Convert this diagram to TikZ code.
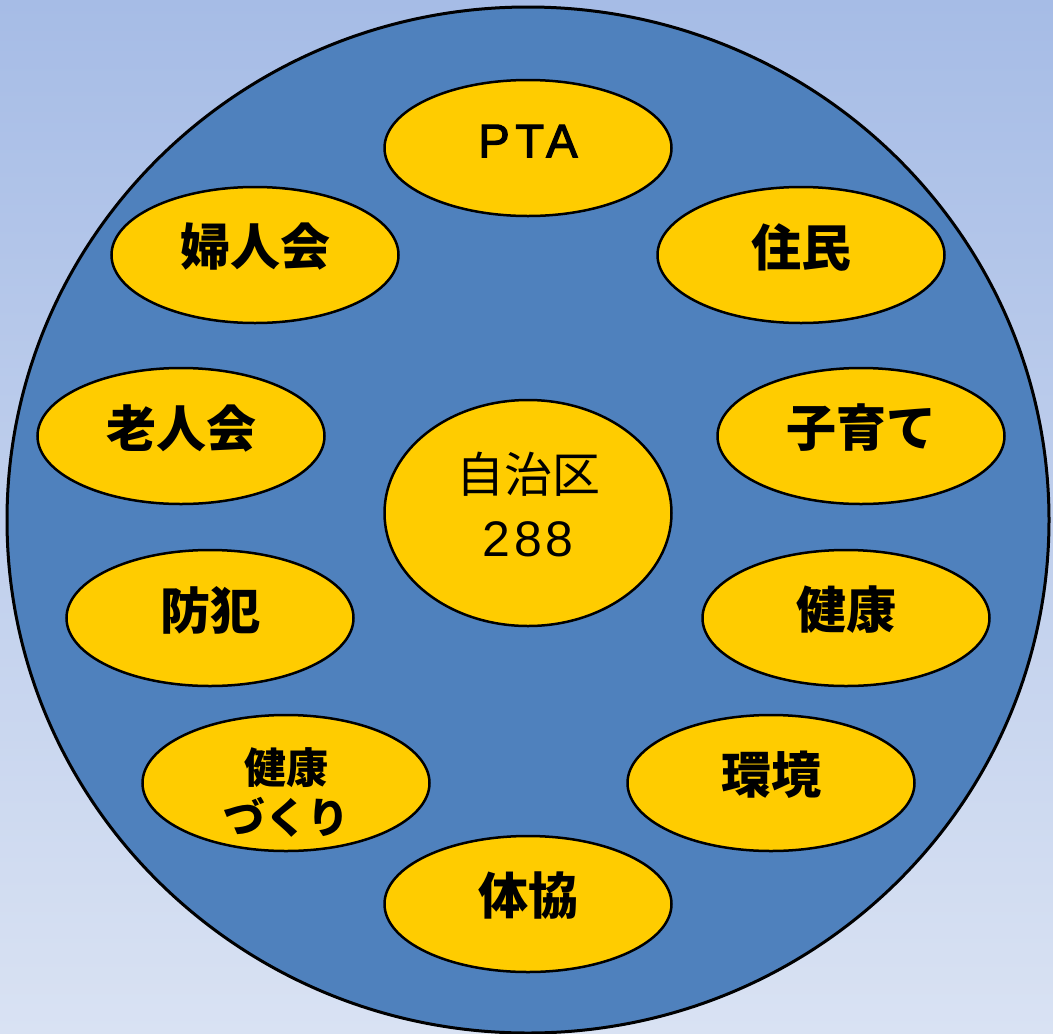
\documentclass[tikz,border=0pt]{standalone}
\usepackage{fontspec}
\setmainfont{Liberation Sans}
\newfontfamily\cjk{Noto Sans CJK JP}
\newfontfamily\latinsp[LetterSpace=12,FakeBold=2.5]{Liberation Sans}
\newfontfamily\numsp[LetterSpace=8]{Liberation Sans}
\usetikzlibrary{shapes.geometric}
\definecolor{bgtop}{HTML}{A6BCE6}
\definecolor{bgbot}{HTML}{D9E2F3}
\definecolor{disc}{HTML}{4F81BD}
\definecolor{gold}{HTML}{FFCC00}
\begin{document}
\begin{tikzpicture}[x=1pt,y=-1pt,
  org/.style={ellipse, draw=black, line width=2.5pt, fill=gold,
    minimum width=287pt, minimum height=136pt, inner sep=0pt},
  hub/.style={org, minimum height=226pt},
  lbl/.style={inner sep=0pt, align=center,
    font=\cjk\bfseries\fontsize{50}{56}\selectfont}]
\useasboundingbox (0,0) rectangle (1053,1034);
\shade[top color=bgtop, bottom color=bgbot] (0,0) rectangle (1053,1034);
\node[ellipse, draw=black, line width=3pt, fill=disc, minimum width=1042pt,
  minimum height=1026pt, inner sep=0pt] (disc) at (528,520) {};
\node[hub] (center) at (528,513) {};
\node[org] (pta) at (528,148) {};
\node[org] (fujin) at (255,255) {};
\node[org] (jumin) at (801,255) {};
\node[org] (rojin) at (181,436) {};
\node[org] (kosodate) at (861,436) {};
\node[org] (bohan) at (210,618) {};
\node[org] (kenko) at (846,618) {};
\node[org] (kenkozukuri) at (286,783) {};
\node[org] (kankyo) at (771,783) {};
\node[org] (taikyo) at (528,904) {};
\node[lbl, yshift=8pt, font=\cjk\fontsize{48}{64}\selectfont] (centerL) at (center.center)
  {自治区\\{\numsp\fontsize{50}{52}\selectfont 288}};
\node[lbl, yshift=7pt, font=\latinsp\fontsize{47}{50}\selectfont] (ptaL) at (pta.center) {PTA};
\node[lbl, yshift=8pt] (fujinL) at (fujin.center) {婦人会};
\node[lbl, yshift=8pt] (juminL) at (jumin.center) {住民};
\node[lbl, yshift=8pt] (rojinL) at (rojin.center) {老人会};
\node[lbl, yshift=8pt] (kosodateL) at (kosodate.center) {子育て};
\node[lbl, yshift=8pt] (bohanL) at (bohan.center) {防犯};
\node[lbl, yshift=8pt] (kenkoL) at (kenko.center) {健康};
\node[lbl, yshift=-9pt, font=\cjk\bfseries\fontsize{42}{50}\selectfont] (kenkozukuriL) at (kenkozukuri.center) {健康\\づくり};
\node[lbl, yshift=8pt] (kankyoL) at (kankyo.center) {環境};
\node[lbl, yshift=8pt] (taikyoL) at (taikyo.center) {体協};
\end{tikzpicture}
\end{document}
